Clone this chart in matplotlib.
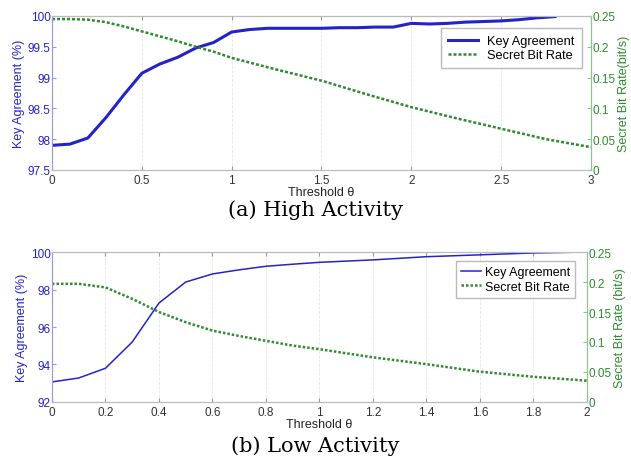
import matplotlib
matplotlib.use("Agg")
import matplotlib.pyplot as plt
import numpy as np

# High activity data
x_high = [0, 0.1, 0.2, 0.3, 0.4, 0.5, 0.6, 0.7, 0.8, 0.9, 1.0, 1.1, 1.2, 1.3, 1.4,
          1.5, 1.6, 1.7, 1.8, 1.9, 2.0, 2.1, 2.2, 2.3, 2.4, 2.5, 2.6, 2.7, 2.8]
ka_high = [97.9, 97.92, 98.02, 98.35, 98.72, 99.07, 99.22, 99.33, 99.48, 99.57, 99.74,
           99.78, 99.8, 99.8, 99.8, 99.8, 99.81, 99.81, 99.82, 99.82, 99.88, 99.87,
           99.88, 99.9, 99.91, 99.92, 99.94, 99.97, 99.99]
x_high_sbr = [0, 0.1, 0.2, 0.3, 0.4, 0.5, 0.6, 0.7, 0.8, 0.9, 1.0, 1.25, 1.5, 1.75,
              2.0, 2.25, 2.5, 2.75, 3.0]
sbr_high = [0.245, 0.245, 0.244, 0.24, 0.233, 0.225, 0.217, 0.209, 0.2, 0.192, 0.182,
            0.163, 0.145, 0.123, 0.102, 0.084, 0.067, 0.05, 0.037]

# Low activity data
x_low = [0, 0.1, 0.2, 0.3, 0.4, 0.5, 0.6, 0.7, 0.8, 0.9, 1.0, 1.2, 1.4, 1.6, 1.8, 2.0]
ka_low = [93.07, 93.28, 93.8, 95.2, 97.28, 98.4, 98.83, 99.05, 99.24, 99.35, 99.45,
          99.58, 99.75, 99.85, 99.95, 100.0]
sbr_low = [0.197, 0.197, 0.191, 0.172, 0.15, 0.133, 0.119, 0.11, 0.102, 0.094, 0.088,
           0.0744, 0.063, 0.0505, 0.042, 0.0355]

blue = "#2323c8"
green = "#2e8b2e"
FONT = "Liberation Sans"
plt.rcParams["font.family"] = FONT

fig = plt.figure(figsize=(6.31, 4.64), dpi=100)


def style(ax, ax2, xticks, xlim, ylim, yticks, yticklabels):
    for a in (ax, ax2):
        for s in a.spines.values():
            s.set_color("#bbbbbb")
            s.set_linewidth(0.8)
        a.tick_params(direction="in", length=3, color="#999999", labelsize=8.5)
    ax2.spines["left"].set_color("#9a9ae0")
    ax2.spines["right"].set_color("#8cc68c")
    ax.set_xlim(*xlim)
    ax.set_xticks(xticks)
    ax.set_xticklabels([("%g" % t) for t in xticks], color="#333333")
    ax.tick_params(axis="x", top=True, pad=3)
    ax.set_ylim(*ylim)
    ax.set_yticks(yticks)
    ax.set_yticklabels(yticklabels, color=blue)
    ax.tick_params(axis="y", pad=1, color="#9a9ae0")
    ax2.set_ylim(0, 0.25)
    rt = [0, 0.05, 0.1, 0.15, 0.2, 0.25]
    ax2.set_yticks(rt)
    ax2.set_yticklabels(["%g" % t for t in rt], color=green)
    ax2.tick_params(axis="y", pad=1, color="#8cc68c")
    ax.grid(axis="x", color="#e6e6e6", linestyle="--", linewidth=0.6)


# Top panel
ax1 = fig.add_axes([0.0824, 0.6315, 0.8542, 0.3319])
ax1b = ax1.twinx()
l1, = ax1.plot(x_high, ka_high, color=blue, lw=2.2, label="Key Agreement")
l2, = ax1b.plot(x_high_sbr, sbr_high, color=green, lw=1.8, linestyle=(0, (1.2, 0.8)),
                label="Secret Bit Rate")
style(ax1, ax1b, [0, 0.5, 1, 1.5, 2, 2.5, 3], (0, 3), (97.5, 100),
      [97.5, 98, 98.5, 99, 99.5, 100], ["97.5", "98", "98.5", "99", "99.5", "100"])
ax1.set_ylabel("Key Agreement (%)", color=blue, fontsize=9, labelpad=2)
ax1b.set_ylabel("Secret Bit Rate(bit/s)", color=green, fontsize=9, labelpad=2)
ax1.set_xlabel("Threshold θ", fontsize=9, labelpad=0, color="#222222")
ax1b.legend([l1, l2], ["Key Agreement", "Secret Bit Rate"], loc="upper right",
            bbox_to_anchor=(0.983, 0.92), borderaxespad=0, fontsize=9.2, frameon=True,
            fancybox=False, edgecolor="#aaaaaa", handlelength=2.4, borderpad=0.55,
            labelspacing=0.15, handletextpad=0.7)

# Bottom panel
ax2 = fig.add_axes([0.0824, 0.1315, 0.8478, 0.3232])
ax2b = ax2.twinx()
m1, = ax2.plot(x_low, ka_low, color=blue, lw=1.1, label="Key Agreement")
m2, = ax2b.plot(x_low, sbr_low, color=green, lw=1.8, linestyle=(0, (1.0, 0.8)),
                label="Secret Bit Rate")
style(ax2, ax2b, [0, 0.2, 0.4, 0.6, 0.8, 1, 1.2, 1.4, 1.6, 1.8, 2], (0, 2), (92, 100),
      [92, 94, 96, 98, 100], ["92", "94", "96", "98", "100"])
ax2.set_ylabel("Key Agreement (%)", color=blue, fontsize=9, labelpad=2)
ax2b.set_ylabel("Secret Bit Rate (bit/s)", color=green, fontsize=9, labelpad=2)
ax2.set_xlabel("Threshold θ", fontsize=9, labelpad=0, color="#222222")
ax2b.legend([m1, m2], ["Key Agreement", "Secret Bit Rate"], loc="upper right",
            bbox_to_anchor=(0.978, 0.94), borderaxespad=0, fontsize=9, frameon=True,
            fancybox=False, edgecolor="#aaaaaa", handlelength=1.6, handletextpad=0.3,
            borderpad=0.4, labelspacing=0.2)

fig.text(0.5, 1 - 210 / 464, "(a) High Activity", ha="center", va="center",
         fontsize=15, family="DejaVu Serif")
fig.text(0.5, 1 - 446 / 464, "(b) Low Activity", ha="center", va="center",
         fontsize=15, family="DejaVu Serif")

fig.savefig("out.png", dpi=100)
